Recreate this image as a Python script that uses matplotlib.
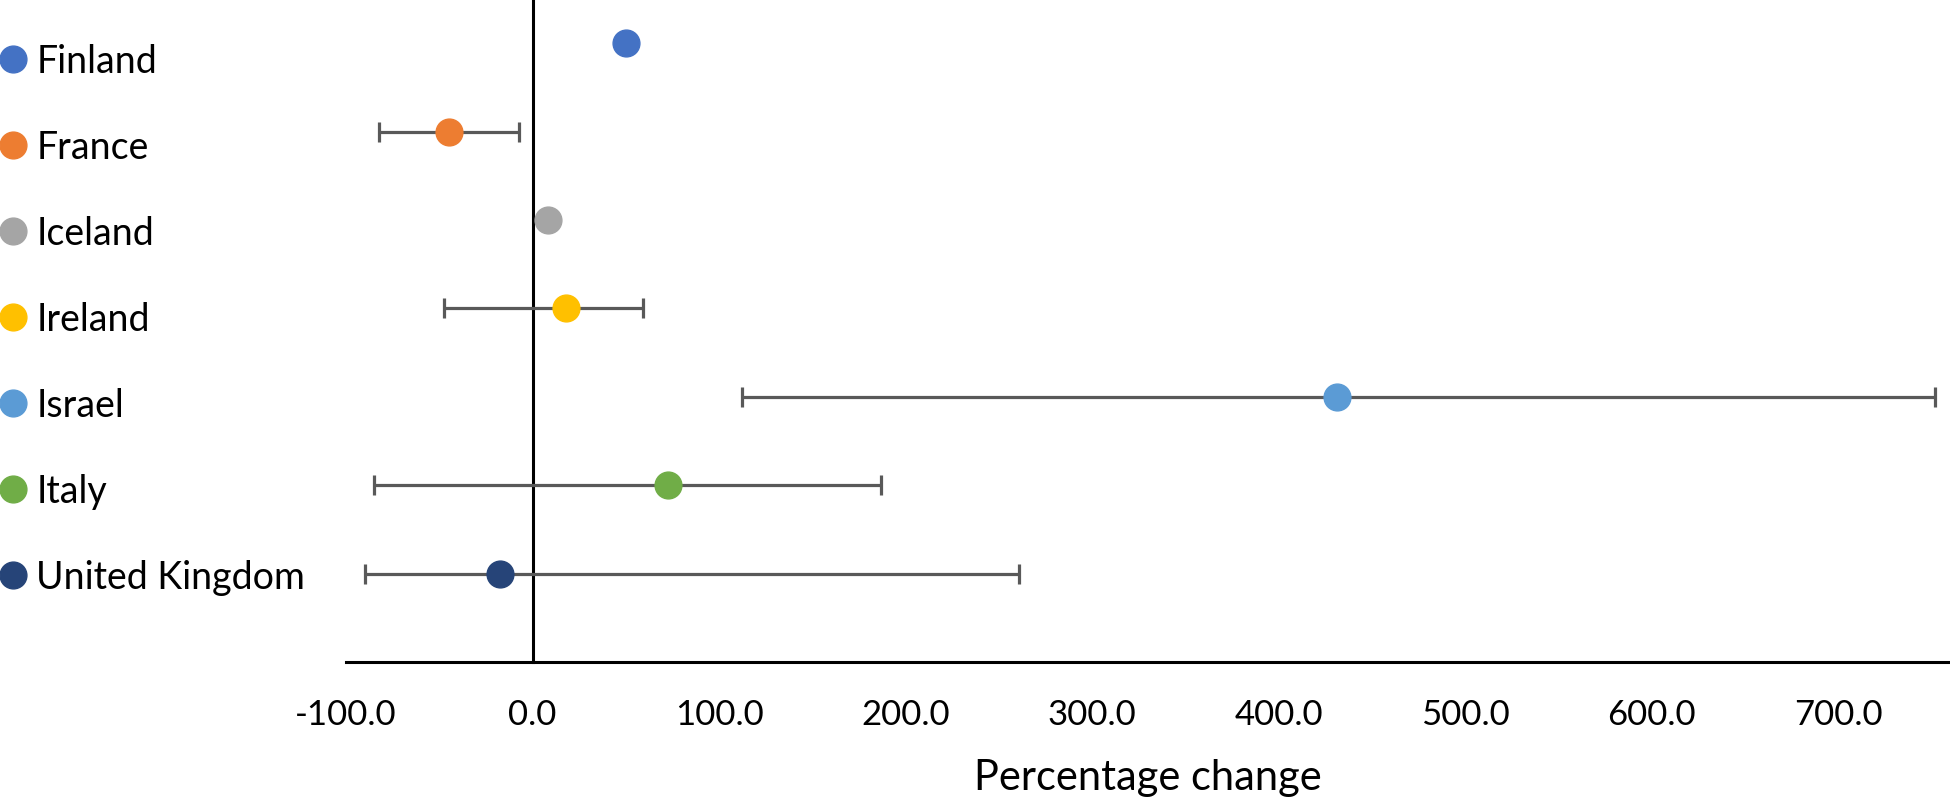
import matplotlib.pyplot as plt
import numpy as np
from matplotlib.lines import Line2D

plt.rcParams['font.family'] = ['Lato', 'DejaVu Sans']

countries = ["Finland", "France", "Iceland", "Ireland", "Israel", "Italy", "United Kingdom"]
estimate = [50.0, -45.0, 8.4, 17.7, 431.6, 72.9, -17.4]
ci_low = [None, -82.5, None, -47.7, 112.3, -85.0, -89.8]
ci_high = [None, -7.0, None, 59.0, 752.0, 186.7, 260.6]
colors = ["#4472C4", "#ED7D31", "#A5A5A5", "#FFC000", "#5B9BD5", "#70AD47", "#264478"]
xticks = [-100, 0, 100, 200, 300, 400, 500, 600, 700]
xlabel = "Percentage change"

W, H = 1950, 804
fig = plt.figure(figsize=(W / 100, H / 100), dpi=100)
ax = fig.add_axes([346 / W, 141 / H, 1 - 346 / W, 1 - 141 / H])

ypos = np.arange(len(countries), 0, -1)
handles = []
for est, lo, hi, y, c, name in zip(estimate, ci_low, ci_high, ypos, colors, countries):
    if lo is not None and hi is not None:
        ax.errorbar([est], [y], xerr=[[est - lo], [hi - est]], fmt='none',
                    ecolor='#595959', elinewidth=2.3, capsize=7.2, capthick=2.3, zorder=3)
    ax.plot([est], [y], 'o', ms=19.3, color=c, zorder=4, clip_on=False)
    handles.append(Line2D([], [], marker='o', ls='none', ms=19.3, color=c, label=name))

ax.set_xlim(-100, 760)
ax.set_ylim(0, 7.5)
for s in ['top', 'right']:
    ax.spines[s].set_visible(False)
ax.spines['left'].set_position(('data', 0))
ax.spines['left'].set_linewidth(2.2)
ax.spines['bottom'].set_linewidth(2.2)
ax.spines['left'].set_zorder(2)
ax.spines['bottom'].set_zorder(2)
ax.set_yticks([])
ax.set_xticks(xticks, labels=[f"{v:.1f}" for v in xticks])
ax.tick_params(axis='x', length=0, labelsize=25, pad=26)
ax.set_xlabel(xlabel, fontsize=30, labelpad=20)

fig.legend(handles=handles, loc='upper left', bbox_to_anchor=(0, 1 - 44 / H),
           frameon=False, fontsize=27, borderpad=0, borderaxespad=0,
           handlelength=0.72, handletextpad=0.25, labelspacing=1.333)

fig.savefig('out.png', dpi=100)
